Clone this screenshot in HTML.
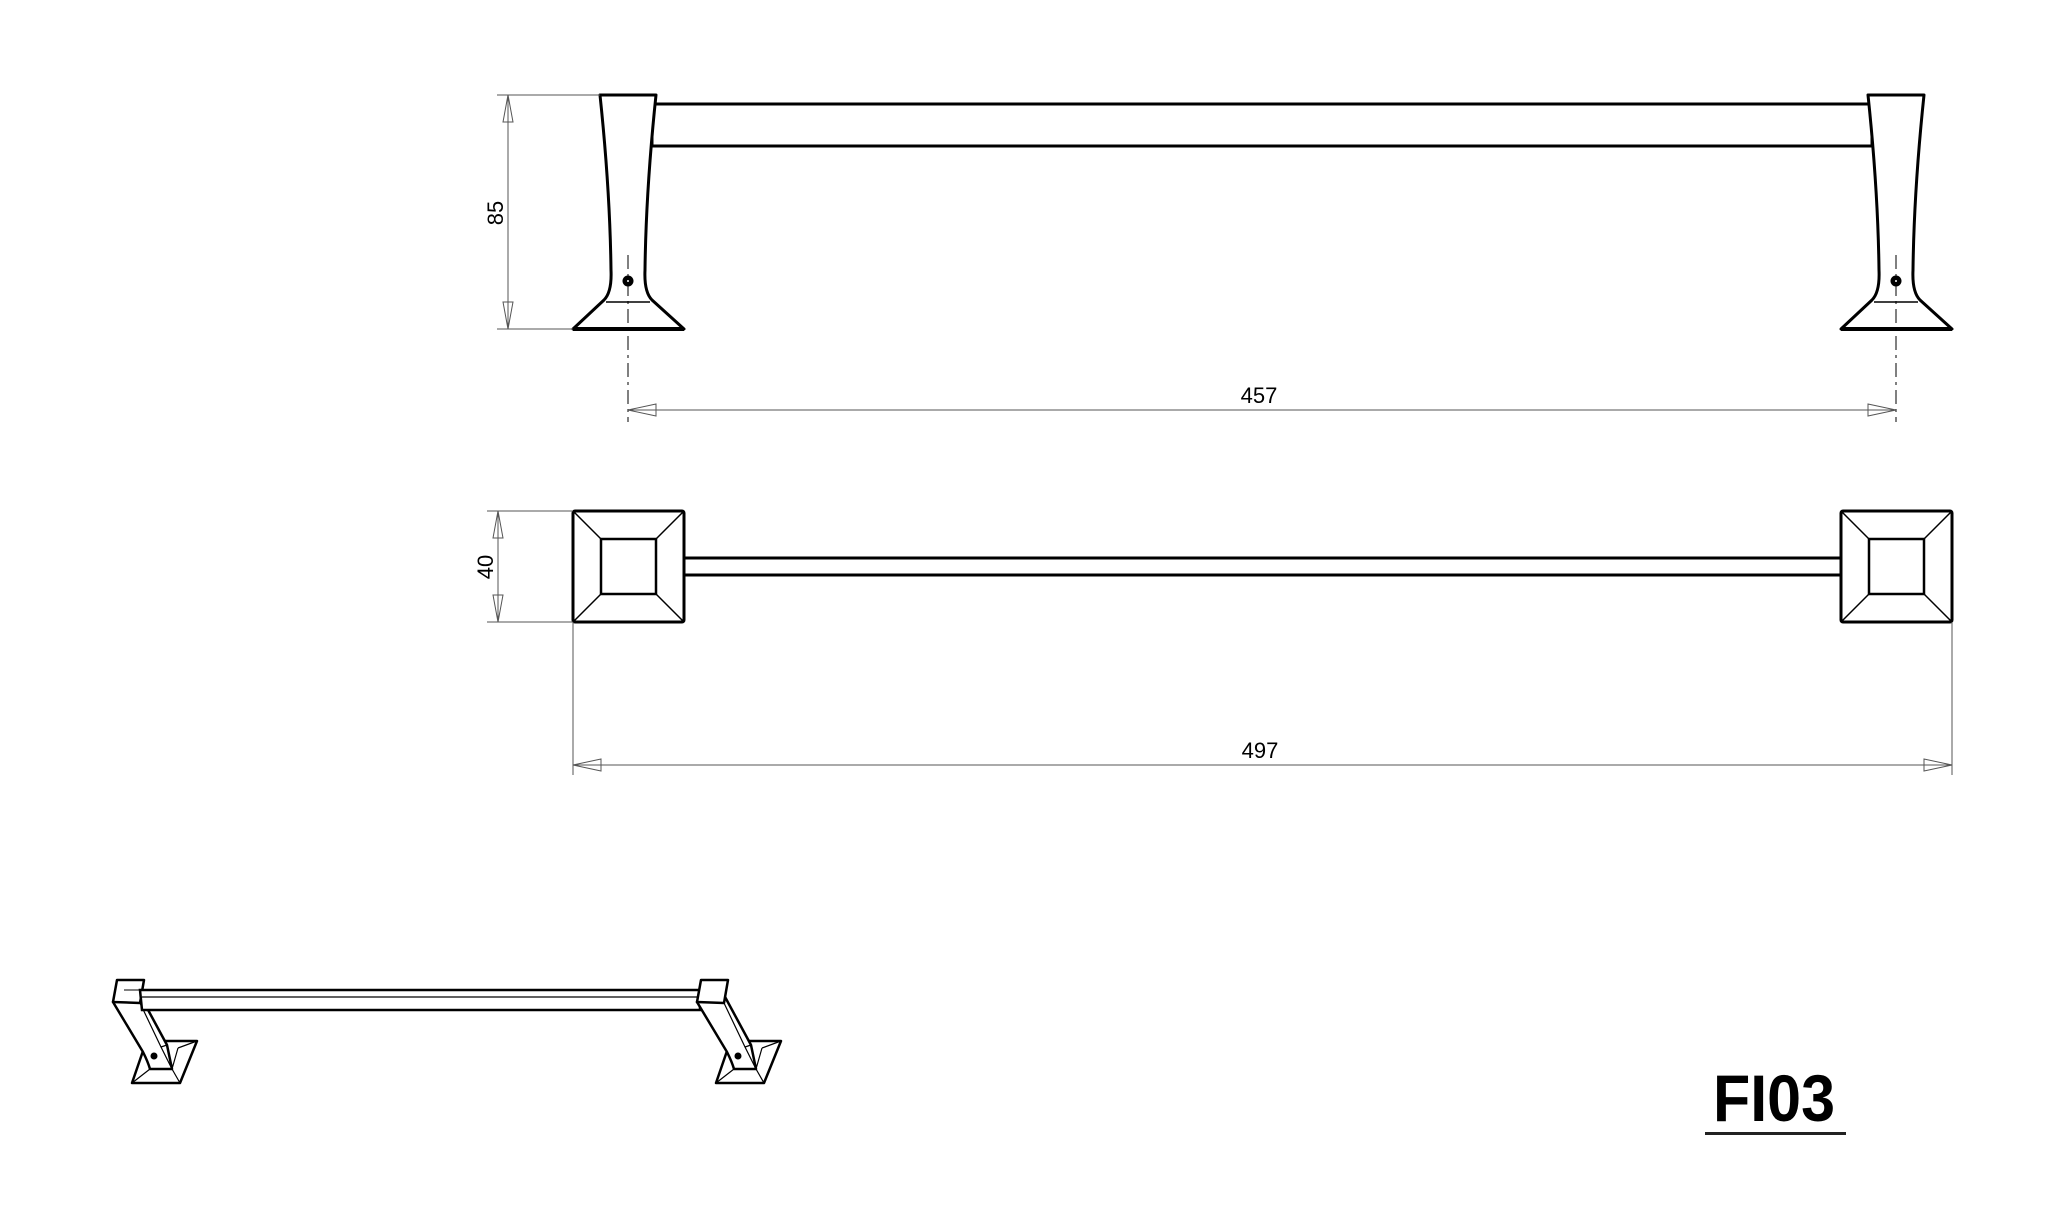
<!DOCTYPE html>
<html><head><style>html,body{margin:0;padding:0;background:#fff}svg{display:block}</style></head>
<body>
<svg width="2048" height="1230" viewBox="0 0 2048 1230" xmlns="http://www.w3.org/2000/svg">
<defs>
<g id="side">
  <path d="M600,95 L656,95 Q646,190 645,270 Q644,292 652,300 L684,329 L573,329 L604,300 Q612,292 611,270 Q610,190 600,95 Z" fill="#fff" stroke="#000" stroke-width="3" stroke-linejoin="round"/>
  <line x1="573" y1="329" x2="684" y2="329" stroke="#000" stroke-width="4"/>
  <line x1="606" y1="302" x2="650" y2="302" stroke="#000" stroke-width="1.5"/>
  <circle cx="628" cy="281" r="5.5" fill="#000"/>
  <circle cx="628" cy="281" r="1" fill="#fff"/>
  <line x1="628" y1="255" x2="628" y2="422" stroke="#000" stroke-width="1" stroke-dasharray="14,5,3,5"/>
</g>
<g id="top">
  <rect x="573" y="511" width="111" height="111" rx="2" fill="#fff" stroke="#000" stroke-width="3"/>
  <rect x="601" y="539" width="55" height="55" fill="none" stroke="#000" stroke-width="2.5"/>
  <path d="M573,511 L601,539 M684,511 L656,539 M573,622 L601,594 M684,622 L656,594" stroke="#000" stroke-width="1.5"/>
</g>
<g id="persp" fill="#fff" stroke="#000" stroke-width="2.5" stroke-linejoin="round">
  <path d="M165,1041 L197,1041 L180,1083 L132,1083 L143,1051 Z"/>
  <path d="M150,1069 L172,1069 L178,1048 M150,1069 L143,1051 M150,1069 L132,1083 M172,1069 L180,1083 M178,1048 L197,1041" stroke-width="1.2" fill="none"/>
  <path d="M113,1002 L143,1052 Q148,1062 150,1069 L172,1069 L167,1045 L140,995 Z"/>
  <path d="M140,1003 L161,1047 L172,1069" stroke-width="1.2" fill="none"/>
  <line x1="161" y1="1047" x2="167" y2="1045" stroke-width="1.2"/>
  <path d="M113,1002 L117,980 L144,980 L140,1003 Z"/>
  <circle cx="154" cy="1056" r="3.5" fill="#000" stroke="none"/>
</g>
</defs>

<rect x="652" y="104" width="1220" height="42" fill="#fff" stroke="#000" stroke-width="3"/>
<use href="#side"/>
<use href="#side" transform="translate(1268,0)"/>

<g stroke="#555" stroke-width="1" fill="none">
  <line x1="497" y1="95" x2="600" y2="95"/>
  <line x1="497" y1="329" x2="573" y2="329"/>
  <line x1="508" y1="95" x2="508" y2="329"/>
  <path d="M508,95 L503,122 L513,122 Z M508,329 L503,302 L513,302 Z"/>
</g>
<text x="0" y="0" transform="translate(503,213) rotate(-90)" font-family="Liberation Sans, sans-serif" font-size="22" text-anchor="middle">85</text>

<g stroke="#555" stroke-width="1" fill="none">
  <line x1="628" y1="410" x2="1896" y2="410"/>
  <path d="M628,410 L656,404 L656,416 Z M1896,410 L1868,404 L1868,416 Z"/>
</g>
<text x="1259" y="403" font-family="Liberation Sans, sans-serif" font-size="22" text-anchor="middle">457</text>

<rect x="652" y="558" width="1220" height="17" fill="#fff" stroke="#000" stroke-width="3"/>
<use href="#top"/>
<use href="#top" transform="translate(1268,0)"/>
<g stroke="#555" stroke-width="1" fill="none">
  <line x1="487" y1="511" x2="573" y2="511"/>
  <line x1="487" y1="622" x2="573" y2="622"/>
  <line x1="498" y1="511" x2="498" y2="622"/>
  <path d="M498,511 L493,538 L503,538 Z M498,622 L493,595 L503,595 Z"/>
  <line x1="573" y1="622" x2="573" y2="775"/>
  <line x1="1952" y1="622" x2="1952" y2="775"/>
  <line x1="573" y1="765" x2="1952" y2="765"/>
  <path d="M573,765 L601,759 L601,771 Z M1952,765 L1924,759 L1924,771 Z"/>
</g>
<text x="0" y="0" transform="translate(493,567) rotate(-90)" font-family="Liberation Sans, sans-serif" font-size="22" text-anchor="middle">40</text>
<text x="1260" y="758" font-family="Liberation Sans, sans-serif" font-size="22" text-anchor="middle">497</text>

<use href="#persp"/>
<path d="M140,990 L700,990 L700,1010 L142,1010 Z" fill="#fff" stroke="#000" stroke-width="2.5"/>
<line x1="124" y1="990" x2="140" y2="990" stroke="#000" stroke-width="1"/>
<line x1="142" y1="997" x2="700" y2="997" stroke="#000" stroke-width="1.2"/>
<use href="#persp" transform="translate(584,0)"/>

<text x="1713" y="1121" font-family="Liberation Sans, sans-serif" font-weight="bold" font-size="66" textLength="122" lengthAdjust="spacingAndGlyphs">FI03</text>
<rect x="1705" y="1132" width="141" height="3" fill="#222"/>
</svg>
</body></html>
